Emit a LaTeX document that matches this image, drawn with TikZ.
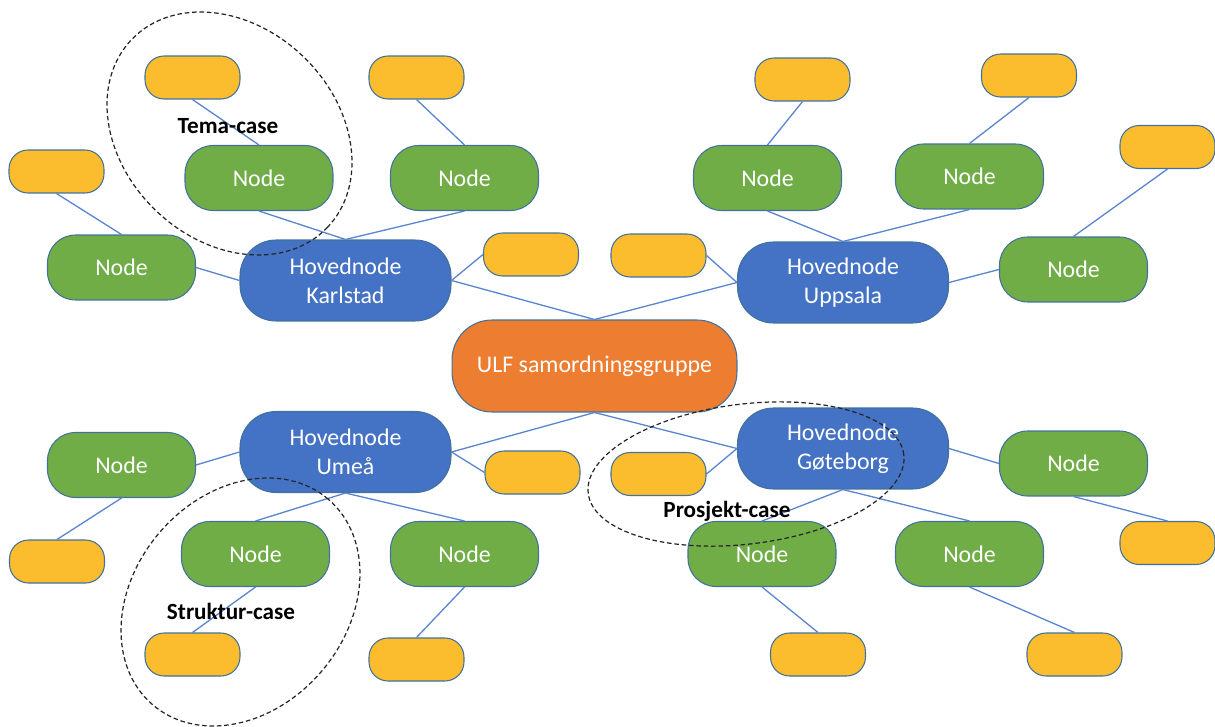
\documentclass[tikz,border=0pt]{standalone}
\usepackage{fontspec}
\setmainfont{Carlito}
\definecolor{grn}{HTML}{70AD47}
\definecolor{blu}{HTML}{4472C4}
\definecolor{orn}{HTML}{ED7D31}
\definecolor{yel}{HTML}{FBBC2E}
\definecolor{outl}{HTML}{41719C}
\definecolor{lnk}{HTML}{5B86CF}
\begin{document}
\begin{tikzpicture}[x=0.02cm,y=0.02cm,
  box/.style={draw=outl, line width=0.6pt, inner sep=0pt, text=white,
    font=\fontsize{13.6}{16.3}\selectfont, align=center},
  gnode/.style={box, fill=grn, minimum width=2.96cm, minimum height=1.30cm, rounded corners=0.56cm},
  hnode/.style={box, fill=blu, minimum width=4.22cm, minimum height=1.62cm, rounded corners=0.72cm},
  cnode/.style={box, fill=orn, minimum width=5.70cm, minimum height=1.84cm, rounded corners=0.80cm},
  ynode/.style={box, fill=yel, minimum width=1.90cm, minimum height=0.86cm, rounded corners=0.38cm},
  lbl/.style={inner sep=0pt, text=black, font=\bfseries\fontsize{13.2}{15}\selectfont},
  link/.style={draw=lnk, line width=0.75pt},
  grp/.style={draw=black!85, line width=0.7pt, dash pattern=on 2.6pt off 1.6pt}
]
\useasboundingbox (0,0) rectangle (1215,-727);

% central and main nodes
\node[cnode] (ulf) at (594.5,-366) {ULF samordningsgruppe};
\node[hnode] (kar) at (345.5,-280.5) {Hovednode\\Karlstad};
\node[hnode] (upp) at (843,-282.5) {Hovednode\\Uppsala};
\node[hnode] (ume) at (345.5,-452) {Hovednode\\Umeå};
\node[hnode] (got) at (843,-448.5) {Hovednode\\Gøteborg};

% green nodes
\node[gnode] (k1) at (259,-178) {Node};
\node[gnode] (k2) at (464.5,-178) {Node};
\node[gnode] (k3) at (121.5,-267.5) {Node};
\node[gnode] (u1) at (767.5,-178) {Node};
\node[gnode] (u2) at (969.5,-176.5) {Node};
\node[gnode] (u3) at (1073.5,-269.5) {Node};
\node[gnode] (m1) at (121.5,-465) {Node};
\node[gnode] (m2) at (255.5,-554) {Node};
\node[gnode] (m3) at (464.5,-554) {Node};
\node[gnode] (g1) at (1073.5,-463.5) {Node};
\node[gnode] (g2) at (762,-554) {Node};
\node[gnode] (g3) at (969.5,-554) {Node};

% yellow nodes
\node[ynode] (ky1) at (192.5,-77.5) {};
\node[ynode] (ky2) at (416.5,-77.5) {};
\node[ynode] (ky3) at (56.5,-171.5) {};
\node[ynode] (ky4) at (531,-254.5) {};
\node[ynode] (uy1) at (802.5,-79.5) {};
\node[ynode] (uy2) at (1029,-75.5) {};
\node[ynode] (uy3) at (1167.5,-147) {};
\node[ynode] (uy4) at (658.5,-255.5) {};
\node[ynode] (my1) at (57,-561.5) {};
\node[ynode] (my2) at (192.5,-654.5) {};
\node[ynode] (my3) at (416.5,-659.5) {};
\node[ynode] (my4) at (532.5,-472.5) {};
\node[ynode] (gy1) at (658.5,-474) {};
\node[ynode] (gy2) at (1167.5,-543) {};
\node[ynode] (gy3) at (818,-654.5) {};
\node[ynode] (gy4) at (1074.5,-654.5) {};

% connectors
\path[link] (ulf.north) -- (kar.east);
\path[link] (ulf.north) -- (upp.west);
\path[link] (ulf.south) -- (ume.east);
\path[link] (ulf.south) -- (got.west);

\path[link] (kar.north) -- (k1.south);
\path[link] (kar.north) -- (k2.south);
\path[link] (kar.west) -- (k3.east);
\path[link] (kar.east) -- (ky4.west);
\path[link] (k1.north) -- (ky1.south);
\path[link] (k2.north) -- (ky2.south);
\path[link] (k3.north) -- (ky3.south);

\path[link] (upp.north) -- (u1.south);
\path[link] (upp.north) -- (u2.south);
\path[link] (upp.west) -- (uy4.east);
\path[link] (upp.east) -- (u3.west);
\path[link] (u1.north) -- (uy1.south);
\path[link] (u2.north) -- (uy2.south);
\path[link] (u3.north) -- (uy3.south);

\path[link] (ume.west) -- (m1.east);
\path[link] (m1.south) -- (my1.north);
\path[link] (ume.south) -- (m2.north);
\path[link] (ume.south) -- (m3.north);
\path[link] (ume.east) -- (my4.west);
\path[link] (m2.south) -- (my2.north);
\path[link] (m3.south) -- (my3.north);

\path[link] (got.west) -- (gy1.east);
\path[link] (got.east) -- (g1.west);
\path[link] (g1.south) -- (gy2.north);
\path[link] (got.south) -- (g2.north);
\path[link] (got.south) -- (g3.north);
\path[link] (g2.south) -- (gy3.north);
\path[link] (g3.south) -- (gy4.north);

% group labels
\node[lbl] (tema) at (228,-126) {Tema-case};
\node[lbl] (strk) at (231,-611) {Struktur-case};
\node[lbl] (pros) at (727,-511) {Prosjekt-case};

% dashed group ellipses
\coordinate (ct) at (229.5,-133.5);
\coordinate (cs) at (240.5,-602);
\coordinate (cp) at (746,-474);
\draw[grp, rotate around={-44:(ct)}] (ct) ellipse [x radius=2.714cm, y radius=2.132cm];
\draw[grp, rotate around={49.6:(cs)}] (cs) ellipse [x radius=2.704cm, y radius=2.134cm];
\draw[grp, rotate around={7:(cp)}] (cp) ellipse [x radius=3.18cm, y radius=1.40cm];
\end{tikzpicture}
\end{document}
